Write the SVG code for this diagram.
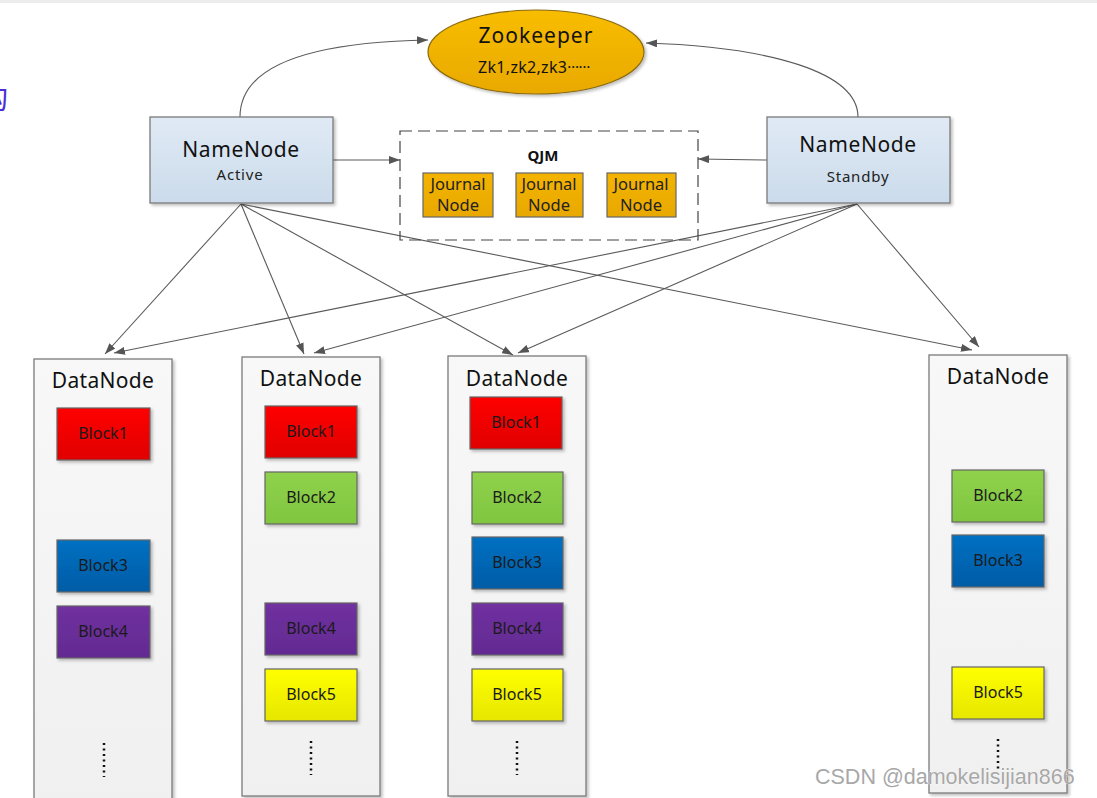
<svg xmlns="http://www.w3.org/2000/svg" width="1097" height="798" viewBox="0 0 1097 798">
<defs>
<style>
.t{font-family:"Noto Sans","DejaVu Sans",sans-serif;fill:#111;text-anchor:middle}
.nn{font-size:21px;letter-spacing:0.6px}
.sub{font-size:15px;letter-spacing:0.8px;fill:#222}
.dn{font-size:21px;letter-spacing:0.3px}
.blk{font-size:16px;fill:#1a1a1a}
.jn{font-size:16.5px;fill:#222}
.conn{fill:none;stroke:#5a5a5a;stroke-width:1.1}
.box{stroke:#7a7a7a;stroke-width:1.3}
.b{stroke:#666;stroke-width:1.2}
.dots{stroke:#111;stroke-width:2.5;stroke-dasharray:2 3.5}
</style>
<linearGradient id="gName" x1="0" y1="0" x2="0" y2="1"><stop offset="0" stop-color="#e0eaf5"/><stop offset="1" stop-color="#cbdbeb"/></linearGradient>
<linearGradient id="gZk" x1="0" y1="0" x2="0" y2="1"><stop offset="0" stop-color="#f8bd00"/><stop offset="1" stop-color="#e9a900"/></linearGradient>
<linearGradient id="gJ" x1="0" y1="0" x2="0" y2="1"><stop offset="0" stop-color="#f4b400"/><stop offset="1" stop-color="#e8a800"/></linearGradient>
<linearGradient id="gDN" x1="0" y1="0" x2="0" y2="1"><stop offset="0" stop-color="#f8f8f8"/><stop offset="1" stop-color="#f0f0f0"/></linearGradient>
<linearGradient id="g1" x1="0" y1="0" x2="0" y2="1"><stop offset="0" stop-color="#ff0000"/><stop offset="1" stop-color="#e00000"/></linearGradient>
<linearGradient id="g2" x1="0" y1="0" x2="0" y2="1"><stop offset="0" stop-color="#8fd14b"/><stop offset="1" stop-color="#80c640"/></linearGradient>
<linearGradient id="g3" x1="0" y1="0" x2="0" y2="1"><stop offset="0" stop-color="#0070c2"/><stop offset="1" stop-color="#005ca6"/></linearGradient>
<linearGradient id="g4" x1="0" y1="0" x2="0" y2="1"><stop offset="0" stop-color="#7030a0"/><stop offset="1" stop-color="#632b92"/></linearGradient>
<linearGradient id="g5" x1="0" y1="0" x2="0" y2="1"><stop offset="0" stop-color="#ffff00"/><stop offset="1" stop-color="#e6e600"/></linearGradient>
<filter id="sh" x="-10%" y="-10%" width="130%" height="130%"><feDropShadow dx="2" dy="2" stdDeviation="1.5" flood-color="#000" flood-opacity="0.25"/></filter>
<marker id="arr" markerUnits="userSpaceOnUse" markerWidth="12" markerHeight="8" refX="11" refY="4" orient="auto"><path d="M0,0 L11,4 L0,8 z" fill="#555"/></marker>
</defs>
<rect width="1097" height="798" fill="#fff"/>
<rect width="1097" height="3" fill="#ececec"/>
<text x="-21" y="109" style="font-family:'Noto Sans CJK SC',sans-serif;font-size:29px;fill:#4b2fd6">构</text>

<g id="connectors">
<path class="conn" d="M240,117 C240,62 320,42 428,40" marker-end="url(#arr)"/>
<path class="conn" d="M858,117 C858,72 770,47 646,43" marker-end="url(#arr)"/>
<path class="conn" d="M333,160 L400,160" marker-end="url(#arr)"/>
<path class="conn" d="M767,160 L698,159" marker-end="url(#arr)"/>
<path class="conn" d="M241,204 L105,354" marker-end="url(#arr)"/>
<path class="conn" d="M241,204 L304,354" marker-end="url(#arr)"/>
<path class="conn" d="M241,204 L513,355" marker-end="url(#arr)"/>
<path class="conn" d="M241,204 L972,350" marker-end="url(#arr)"/>
<path class="conn" d="M857,204 L114,353" marker-end="url(#arr)"/>
<path class="conn" d="M857,204 L314,353" marker-end="url(#arr)"/>
<path class="conn" d="M857,204 L518,353" marker-end="url(#arr)"/>
<path class="conn" d="M857,204 L979,347" marker-end="url(#arr)"/>
</g>

<g id="zookeeper">
<ellipse cx="536" cy="52" rx="108" ry="42" fill="url(#gZk)" stroke="#8a6a10" stroke-width="1.2" filter="url(#sh)"/>
<text class="t" x="536" y="43" style="font-size:21px;letter-spacing:1px">Zookeeper</text>
<text class="t" x="534" y="73" style="font-size:16px;letter-spacing:0.3px">Zk1,zk2,zk3<tspan dy="-5" style="font-size:15px;letter-spacing:-0.5px">……</tspan></text>
</g>

<g id="namenode-active">
<rect class="box" x="150" y="117" width="183" height="86" fill="url(#gName)" filter="url(#sh)"/>
<text class="t nn" x="241" y="157">NameNode</text>
<text class="t sub" x="240" y="180">Active</text>
</g>

<g id="namenode-standby">
<rect class="box" x="767" y="117" width="183" height="86" fill="url(#gName)" filter="url(#sh)"/>
<text class="t nn" x="858" y="152">NameNode</text>
<text class="t sub" x="858" y="182">Standby</text>
</g>

<g id="qjm">
<rect x="400" y="131" width="298" height="109" fill="none" stroke="#444" stroke-width="1.2" stroke-dasharray="12 6"/>
<text class="t" x="543" y="161" style="font-size:15px;font-weight:bold">QJM</text>
</g>
<g id="journal1">
<rect class="b" x="423" y="173" width="70" height="44" fill="url(#gJ)"/>
<text class="t jn" x="458" y="190">Journal</text><text class="t jn" x="458" y="211">Node</text>
</g>
<g id="journal2">
<rect class="b" x="516" y="173" width="67" height="44" fill="url(#gJ)"/>
<text class="t jn" x="549" y="190">Journal</text><text class="t jn" x="549" y="211">Node</text>
</g>
<g id="journal3">
<rect class="b" x="607" y="173" width="69" height="44" fill="url(#gJ)"/>
<text class="t jn" x="641" y="190">Journal</text><text class="t jn" x="641" y="211">Node</text>
</g>

<g id="datanode1">
<rect class="box" x="34" y="359" width="138" height="445" fill="url(#gDN)" filter="url(#sh)"/>
<text class="t dn" x="103" y="388">DataNode</text>
<rect class="b" x="57" y="408" width="93" height="52" fill="url(#g1)" filter="url(#sh)"/><text class="t blk" x="103" y="439">Block1</text>
<rect class="b" x="57" y="540" width="93" height="52" fill="url(#g3)" filter="url(#sh)"/><text class="t blk" x="103" y="571">Block3</text>
<rect class="b" x="57" y="606" width="93" height="52" fill="url(#g4)" filter="url(#sh)"/><text class="t blk" x="103" y="637">Block4</text>
<line class="dots" x1="104" y1="743" x2="104" y2="777"/>
</g>

<g id="datanode2">
<rect class="box" x="242" y="357" width="138" height="439" fill="url(#gDN)" filter="url(#sh)"/>
<text class="t dn" x="311" y="386">DataNode</text>
<rect class="b" x="265" y="406" width="92" height="52" fill="url(#g1)" filter="url(#sh)"/><text class="t blk" x="311" y="437">Block1</text>
<rect class="b" x="265" y="472" width="92" height="52" fill="url(#g2)" filter="url(#sh)"/><text class="t blk" x="311" y="503">Block2</text>
<rect class="b" x="265" y="603" width="92" height="52" fill="url(#g4)" filter="url(#sh)"/><text class="t blk" x="311" y="634">Block4</text>
<rect class="b" x="265" y="669" width="92" height="52" fill="url(#g5)" filter="url(#sh)"/><text class="t blk" x="311" y="700">Block5</text>
<line class="dots" x1="311" y1="741" x2="311" y2="775"/>
</g>

<g id="datanode3">
<rect class="box" x="448" y="356" width="138" height="440" fill="url(#gDN)" filter="url(#sh)"/>
<text class="t dn" x="517" y="386">DataNode</text>
<rect class="b" x="470" y="397" width="92" height="52" fill="url(#g1)" filter="url(#sh)"/><text class="t blk" x="516" y="428">Block1</text>
<rect class="b" x="472" y="472" width="91" height="52" fill="url(#g2)" filter="url(#sh)"/><text class="t blk" x="517" y="503">Block2</text>
<rect class="b" x="472" y="537" width="91" height="52" fill="url(#g3)" filter="url(#sh)"/><text class="t blk" x="517" y="568">Block3</text>
<rect class="b" x="472" y="603" width="91" height="52" fill="url(#g4)" filter="url(#sh)"/><text class="t blk" x="517" y="634">Block4</text>
<rect class="b" x="472" y="669" width="91" height="52" fill="url(#g5)" filter="url(#sh)"/><text class="t blk" x="517" y="700">Block5</text>
<line class="dots" x1="517" y1="741" x2="517" y2="775"/>
</g>

<g id="datanode4">
<rect class="box" x="929" y="355" width="138" height="438" fill="url(#gDN)" filter="url(#sh)"/>
<text class="t dn" x="998" y="384">DataNode</text>
<rect class="b" x="952" y="470" width="92" height="52" fill="url(#g2)" filter="url(#sh)"/><text class="t blk" x="998" y="501">Block2</text>
<rect class="b" x="952" y="535" width="92" height="52" fill="url(#g3)" filter="url(#sh)"/><text class="t blk" x="998" y="566">Block3</text>
<rect class="b" x="952" y="667" width="92" height="52" fill="url(#g5)" filter="url(#sh)"/><text class="t blk" x="998" y="698">Block5</text>
<line class="dots" x1="998" y1="739" x2="998" y2="772"/>
</g>

<text x="815" y="784" style="font-family:'Liberation Sans',Arial,sans-serif;font-size:21.5px;fill:#a8a8a8;stroke:#fff;stroke-width:0.6;paint-order:stroke">CSDN @damokelisijian866</text>
</svg>
